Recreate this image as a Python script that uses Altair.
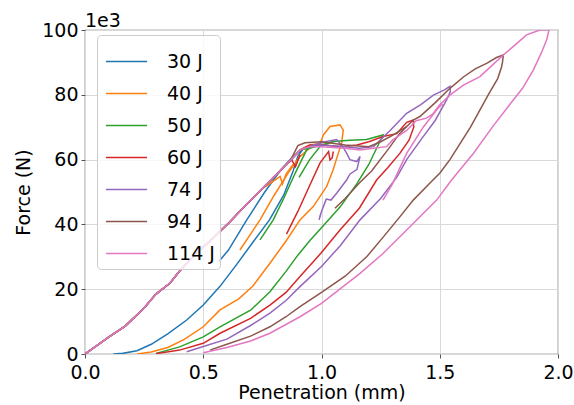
import altair as alt
import pandas as pd

# Shared loading path (N in units of 1e3)
COMMON_X = [0.00, 0.05, 0.10, 0.17, 0.25, 0.30, 0.36, 0.40, 0.47, 0.53, 0.61, 0.67, 0.73, 0.81, 0.87]
COMMON_Y = [0.0, 2.6, 5.2, 8.6, 14.2, 18.5, 21.9, 25.6, 31.0, 35.0, 40.6, 45.2, 49.6, 55.5, 59.9]

ENERGIES = ["30 J", "40 J", "50 J", "60 J", "74 J", "94 J", "114 J"]
COLORS = ["#1f77b4", "#ff7f0e", "#2ca02c", "#d62728", "#9467bd", "#8c564b", "#e377c2"]

# 30 J
J30_MAIN_X = [0.90, 0.92, 0.90, 0.88, 0.84, 0.78, 0.71, 0.64, 0.57, 0.50, 0.43, 0.35, 0.28, 0.22, 0.16, 0.12]
J30_MAIN_Y = [62.2, 63.0, 61.0, 56.5, 49.0, 41.4, 34.5, 27.5, 20.8, 15.1, 10.5, 6.2, 3.0, 1.0, 0.2, 0.0]
J30_SEG_X = [0.565, 0.606, 0.684, 0.76, 0.83, 0.88, 0.91]
J30_SEG_Y = [28.5, 32.0, 41.4, 50.0, 57.0, 61.0, 62.5]

# 40 J
J40_MAIN_X = [0.91, 0.95, 0.994, 1.008, 1.036, 1.078, 1.092, 1.085, 1.071, 1.05, 1.022, 0.965, 0.909,
              0.853, 0.782, 0.71, 0.65, 0.571, 0.50, 0.42, 0.35, 0.28, 0.22]
J40_MAIN_Y = [63.0, 64.5, 65.0, 67.6, 70.2, 70.7, 69.1, 65.0, 62.0, 57.0, 51.7, 45.5, 41.4,
              35.2, 28.0, 21.0, 17.0, 13.6, 8.4, 4.5, 2.0, 0.6, 0.0]
J40_SEG_X = [0.655, 0.70, 0.74, 0.80, 0.86, 0.91, 0.95]
J40_SEG_Y = [32.1, 37.0, 41.4, 49.0, 56.0, 61.0, 63.5]
J40_KINK_X = [0.76, 0.80, 0.825, 0.835, 0.85, 0.88]
J40_KINK_Y = [51.5, 53.5, 54.8, 52.5, 55.5, 58.5]

# 50 J
J50_MAIN_X = [0.91, 0.95, 1.0, 1.05, 1.12, 1.19, 1.26, 1.2, 1.149, 1.08, 1.0, 0.951, 0.9, 0.85,
              0.782, 0.7, 0.571, 0.5, 0.4, 0.3]
J50_MAIN_Y = [63.0, 63.5, 64.5, 65.6, 66.0, 66.2, 67.6, 58.5, 52.5, 45.5, 39.0, 35.0, 30.5, 25.5,
              19.2, 13.5, 8.4, 5.3, 2.2, 0.2]
J50_SEG_X = [0.74, 0.796, 0.84, 0.89, 0.937, 0.96]
J50_SEG_Y = [35.2, 41.4, 48.0, 56.0, 63.0, 64.0]
J50_LOOP_X = [0.905, 0.95, 0.994, 1.05]
J50_LOOP_Y = [54.5, 60.0, 64.0, 65.6]

# 60 J
J60_MAIN_X = [0.91, 0.951, 1.0, 1.09, 1.15, 1.2, 1.26, 1.318, 1.36, 1.388, 1.39, 1.37, 1.332, 1.28,
              1.233, 1.16, 1.078, 1.0, 0.909, 0.85, 0.782, 0.7, 0.571, 0.5, 0.4, 0.3]
J60_MAIN_Y = [63.0, 64.5, 64.5, 64.0, 64.5, 65.5, 67.1, 68.0, 71.5, 72.2, 70.0, 66.0, 62.0, 57.5,
              53.7, 45.0, 38.3, 31.3, 23.9, 19.0, 15.1, 11.0, 6.4, 3.3, 1.2, 0.1]
J60_SEG_X = [0.852, 0.90, 0.95, 0.994, 1.03, 1.036, 1.045, 1.05]
J60_SEG_Y = [37.0, 44.0, 52.0, 59.0, 62.5, 59.9, 60.5, 62.5]
J60_KINK_X = [0.85, 0.875, 0.89, 0.91]
J60_KINK_Y = [58.5, 59.8, 57.8, 61.5]

# 74 J
J74_MAIN_X = [0.91, 0.95, 1.0, 1.1, 1.16, 1.22, 1.29, 1.36, 1.42, 1.473, 1.52, 1.543, 1.545, 1.529,
              1.48, 1.43, 1.36, 1.318, 1.25, 1.163, 1.08, 1.0, 0.909, 0.85, 0.782, 0.7, 0.6, 0.5, 0.43]
J74_MAIN_Y = [63.0, 64.0, 64.5, 64.0, 63.5, 64.0, 69.0, 74.3, 77.0, 79.9, 81.5, 82.6, 81.0, 78.4,
              72.0, 67.1, 60.0, 54.5, 48.0, 41.4, 33.5, 27.0, 20.8, 16.5, 12.6, 8.8, 4.6, 2.3, 0.7]
J74_LOOP_X = [0.95, 1.021, 1.064, 1.09, 1.106, 1.12, 1.149, 1.163, 1.15, 1.12, 1.106, 1.064, 1.04,
              1.02, 1.0, 0.99, 0.995]
J74_LOOP_Y = [64.2, 65.6, 66.2, 64.0, 62.0, 60.0, 59.4, 61.0, 57.0, 55.5, 53.7, 49.6, 47.5,
              47.8, 44.0, 41.4, 43.0]

# 94 J
J94_MAIN_X = [0.90, 0.93, 1.0, 1.1, 1.2, 1.25, 1.3, 1.36, 1.388, 1.416, 1.48, 1.543, 1.6, 1.65, 1.698,
              1.74, 1.769, 1.765, 1.761, 1.745, 1.705, 1.63, 1.543, 1.5, 1.466, 1.388, 1.332, 1.26,
              1.191, 1.1, 1.0, 0.909, 0.85, 0.782, 0.7, 0.6, 0.528]
J94_MAIN_Y = [64.3, 65.2, 65.5, 64.5, 64.0, 65.5, 67.5, 70.2, 72.2, 73.3, 77.5, 82.0, 85.5, 88.0, 89.7,
              91.5, 92.3, 90.0, 88.5, 85.0, 80.0, 70.0, 60.0, 55.8, 53.3, 47.5, 42.4, 36.0,
              30.0, 24.0, 19.0, 14.6, 11.5, 8.4, 5.5, 3.0, 1.2]
J94_SEG_X = [1.057, 1.1, 1.163, 1.212, 1.28, 1.33, 1.36]
J94_SEG_Y = [45.0, 48.0, 53.0, 56.5, 63.0, 68.0, 70.2]

# 114 J
J114_MAIN_X = [0.91, 0.95, 1.0, 1.1, 1.163, 1.22, 1.275, 1.30, 1.36, 1.40, 1.444, 1.47, 1.50, 1.543,
               1.6, 1.67, 1.72, 1.769, 1.82, 1.867, 1.924, 1.962, 1.952, 1.93, 1.896, 1.85, 1.811,
               1.727, 1.642, 1.55, 1.487, 1.374, 1.26, 1.163, 1.0, 0.909, 0.782, 0.7, 0.6, 0.5]
J114_MAIN_Y = [63.0, 64.0, 64.0, 63.5, 63.0, 63.5, 64.0, 66.0, 69.0, 72.0, 72.8, 74.0, 76.9, 79.9,
               83.0, 85.6, 89.0, 92.3, 95.5, 98.5, 100.0, 100.0, 97.0, 93.0, 87.7, 82.0, 78.4,
               70.5, 61.9, 53.7, 47.5, 39.3, 31.0, 24.9, 15.6, 11.5, 6.4, 4.0, 2.0, 0.4]
J114_SEG_X = [1.26, 1.30, 1.36, 1.43, 1.50, 1.515]
J114_SEG_Y = [47.5, 52.5, 61.9, 70.0, 76.5, 77.0]

CURVES = [
    ("30 J", "a", COMMON_X + J30_MAIN_X, COMMON_Y + J30_MAIN_Y),
    ("30 J", "b", J30_SEG_X, J30_SEG_Y),
    ("40 J", "a", COMMON_X + J40_MAIN_X, COMMON_Y + J40_MAIN_Y),
    ("40 J", "b", J40_SEG_X, J40_SEG_Y),
    ("40 J", "c", J40_KINK_X, J40_KINK_Y),
    ("50 J", "a", COMMON_X + J50_MAIN_X, COMMON_Y + J50_MAIN_Y),
    ("50 J", "b", J50_SEG_X, J50_SEG_Y),
    ("50 J", "c", J50_LOOP_X, J50_LOOP_Y),
    ("60 J", "a", COMMON_X + J60_MAIN_X, COMMON_Y + J60_MAIN_Y),
    ("60 J", "b", J60_SEG_X, J60_SEG_Y),
    ("60 J", "c", J60_KINK_X, J60_KINK_Y),
    ("74 J", "a", COMMON_X + J74_MAIN_X, COMMON_Y + J74_MAIN_Y),
    ("74 J", "b", J74_LOOP_X, J74_LOOP_Y),
    ("94 J", "a", COMMON_X + J94_MAIN_X, COMMON_Y + J94_MAIN_Y),
    ("94 J", "b", J94_SEG_X, J94_SEG_Y),
    ("114 J", "a", COMMON_X + J114_MAIN_X, COMMON_Y + J114_MAIN_Y),
    ("114 J", "b", J114_SEG_X, J114_SEG_Y),
]

rows = []
for energy, part, xs, ys in CURVES:
    for i, (xv, yv) in enumerate(zip(xs, ys)):
        rows.append({"energy": energy, "curve": energy + part, "idx": i,
                     "pen": xv, "force": yv})
df = pd.DataFrame(rows)

FONT = "DejaVu Sans"

chart = alt.Chart(df).mark_line(strokeWidth=1.5, clip=True).encode(
    x=alt.X("pen:Q", title="Penetration (mm)",
            scale=alt.Scale(domain=[0, 2], nice=False, zero=False),
            axis=alt.Axis(values=[0, 0.5, 1.0, 1.5, 2.0], format=".1f", labelFlush=False)),
    y=alt.Y("force:Q", title="Force (N)",
            scale=alt.Scale(domain=[0, 100], nice=False),
            axis=alt.Axis(values=[0, 20, 40, 60, 80, 100], format="d", labelFlush=False)),
    color=alt.Color("energy:N", scale=alt.Scale(domain=ENERGIES, range=COLORS),
                    legend=alt.Legend(title=None, orient="none", legendX=12, legendY=5,
                                      symbolType="stroke", symbolSize=1700,
                                      symbolStrokeWidth=1.5, labelFontSize=19,
                                      labelFont=FONT, labelColor="#000000",
                                      fillColor="rgba(255,255,255,0.8)",
                                      strokeColor="#cccccc", cornerRadius=4,
                                      padding=5, rowPadding=0, labelOffset=19,
                                      symbolOffset=3)),
    detail="curve:N",
    order="idx:Q",
).properties(
    width=473, height=324,
    padding={"left": 85, "top": 30, "right": 16, "bottom": 51},
    autosize="none",
    title=alt.TitleParams(text="1e3", anchor="start", frame="group", offset=2, dy=12,
                          fontSize=19, font=FONT, fontWeight="normal", color="#000000"),
).configure_axis(
    labelFont=FONT, labelFontSize=19, labelColor="#000000",
    titleFont=FONT, titleFontSize=19, titleColor="#000000", titleFontWeight="normal",
    gridColor="#d9d9d9", gridWidth=1,
    domain=False, tickColor="#555555", tickSize=4,
).configure_axisX(
    labelPadding=5, titlePadding=1,
).configure_axisY(
    labelPadding=3, titlePadding=8,
).configure_view(
    stroke="#666666", strokeWidth=1.2,
)

chart.save("out.html", embed_options={"renderer": "svg", "actions": False})
